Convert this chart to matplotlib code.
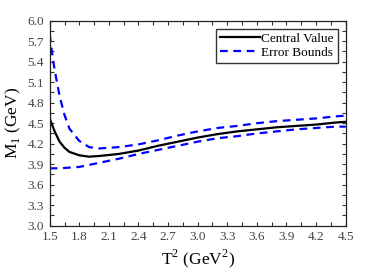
import numpy as np
import matplotlib
matplotlib.use("Agg")
import matplotlib.pyplot as plt
from matplotlib.ticker import MultipleLocator

plt.rcParams['font.family'] = ['Liberation Serif', 'DejaVu Serif']
plt.rcParams['mathtext.fontset'] = 'custom'
plt.rcParams['mathtext.rm'] = 'Liberation Serif'

# Borel parameter T^2 (GeV^2) and mass M_1 (GeV)
t2_central = [1.5, 1.55, 1.6, 1.65, 1.7, 1.8, 1.9, 2.0, 2.2, 2.4, 2.6, 2.8,
              3.0, 3.2, 3.4, 3.6, 3.8, 4.0, 4.2, 4.4, 4.5]
m_central = [4.57, 4.38, 4.23, 4.14, 4.08, 4.03, 4.01, 4.02, 4.05, 4.10, 4.17, 4.23,
             4.29, 4.34, 4.38, 4.41, 4.44, 4.46, 4.48, 4.51, 4.52]

t2_upper = [1.5, 1.52, 1.55, 1.6, 1.65, 1.7, 1.8, 1.9, 2.0, 2.2, 2.4, 2.6, 2.8,
            3.0, 3.2, 3.4, 3.6, 3.8, 4.0, 4.2, 4.4, 4.5]
m_upper = [5.80, 5.57, 5.28, 4.90, 4.62, 4.42, 4.24, 4.15, 4.13, 4.15, 4.19, 4.25, 4.32,
           4.38, 4.43, 4.46, 4.50, 4.53, 4.55, 4.57, 4.60, 4.61]

t2_lower = [1.5, 1.6, 1.7, 1.8, 1.9, 2.0, 2.2, 2.4, 2.6, 2.8,
            3.0, 3.2, 3.4, 3.6, 3.8, 4.0, 4.2, 4.4, 4.5]
m_lower = [3.84, 3.84, 3.85, 3.86, 3.89, 3.92, 3.98, 4.05, 4.11, 4.17,
           4.23, 4.28, 4.31, 4.35, 4.38, 4.41, 4.43, 4.45, 4.45]

fig = plt.figure(figsize=(3.82, 2.73), dpi=100)
ax = fig.add_axes([49.7 / 382, 1 - 225.7 / 273, 296 / 382, 205 / 273])

ax.plot(t2_central, m_central, color='black', lw=1.6, label='Central Value')
ax.plot(t2_upper, m_upper, color='#0000ff', lw=1.6, ls=(0, (3.5, 2.5)), label='Error Bounds')
ax.plot(t2_lower, m_lower, color='#0000ff', lw=1.6, ls=(0, (3.5, 2.5)))

ax.set_xlim(1.5, 4.5)
ax.set_ylim(3.0, 6.0)
ax.xaxis.set_major_locator(MultipleLocator(0.3))
ax.xaxis.set_minor_locator(MultipleLocator(0.15))
ax.yaxis.set_major_locator(MultipleLocator(0.3))
ax.yaxis.set_minor_locator(MultipleLocator(0.15))
ax.xaxis.set_major_formatter(plt.FormatStrFormatter('%.1f'))
ax.yaxis.set_major_formatter(plt.FormatStrFormatter('%.1f'))
ax.tick_params(which='both', direction='in', top=True, right=True, length=3, width=0.8,
               labelsize=9.5, colors='#333333', labelcolor='#444444', pad=4)
for s in ax.spines.values():
    s.set_linewidth(0.9)
    s.set_color('#222222')

ax.set_xlabel(r'T$^2$ (GeV$^2$)', fontsize=12.5, labelpad=3)
ax.set_ylabel(r'M$_1$ (GeV)', fontsize=12.5, labelpad=3)

leg = ax.legend(loc='upper right', fontsize=9.5, frameon=True, fancybox=False,
                edgecolor='black', handlelength=3.0, handletextpad=0.1,
                borderpad=0.3, labelspacing=0.15, borderaxespad=0.6)
leg.get_frame().set_linewidth(1.0)

fig.savefig('out.png', dpi=100)
